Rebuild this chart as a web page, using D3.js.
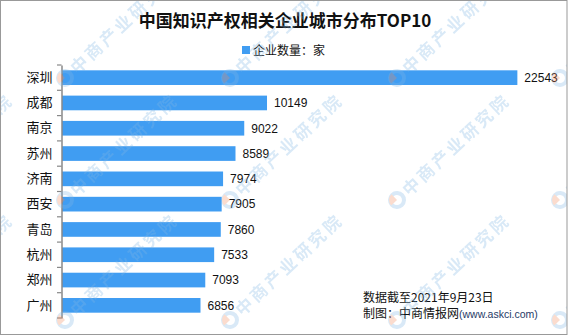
<!DOCTYPE html>
<html><head><meta charset="utf-8">
<script src="https://cdn.jsdelivr.net/npm/d3@7"></script>
<style>
html,body{margin:0;padding:0;background:#fff;}
svg{display:block;}
</style></head>
<body>
<svg id="chart" width="568" height="335"></svg>
<script>
const categories = ["深圳","成都","南京","苏州","济南","西安","青岛","杭州","郑州","广州"];
const values = [22543,10149,9022,8589,7974,7905,7860,7533,7093,6856];
const titleText = "中国知识产权相关企业城市分布TOP10";
const legendText = "企业数量：家";
const noteLines = ["数据截至2021年9月23日", "制图：中商情报网"];
const sourceUrl = "(www.askci.com)";
const watermarkText = "中商产业研究院";
const watermarkCols = [-100, 65, 230, 397, 560];
const watermarkRows = [78, 200, 320];

const W = 568, H = 335;
const barColor = "#409DF2";
const svg = d3.select("#chart");
const cjk = "'Noto Sans CJK SC','Noto Sans',sans-serif";

svg.append("rect").attr("x",0).attr("y",0).attr("width",W).attr("height",H).attr("fill","#fff");

const x = d3.scaleLinear().domain([0, 25000]).range([62, 567]);
const y = d3.scaleBand().domain(categories).range([65, 318]).paddingInner(0.42).paddingOuter(0.21);

// title
svg.append("text").attr("x", 285).attr("y", 27).attr("text-anchor","middle")
  .attr("font-family", cjk).attr("font-weight","bold").attr("font-size",17).attr("fill","#111")
  .text(titleText);

// legend
svg.append("rect").attr("x",242).attr("y",46).attr("width",8).attr("height",8).attr("fill",barColor);
svg.append("text").attr("x",253).attr("y",54.5).attr("font-family",cjk).attr("font-size",12).attr("fill","#111")
  .text(legendText);

// bars
svg.append("g").selectAll("rect").data(values).join("rect")
  .attr("x", x(0)).attr("y", (d,i)=>y(categories[i]))
  .attr("width", d=>x(d)-x(0)).attr("height", y.bandwidth())
  .attr("fill", barColor);

// value labels
svg.append("g").selectAll("text").data(values).join("text")
  .attr("x", d=>x(d)+7).attr("y", (d,i)=>y(categories[i])+y.bandwidth()/2)
  .attr("dy","0.36em")
  .attr("font-family","'Liberation Sans',Arial,sans-serif").attr("font-size",12).attr("fill","#111")
  .text(d=>d);

// axis
const axis = d3.axisLeft(y).tickSize(0).tickPadding(9);
const ag = svg.append("g").attr("transform",`translate(${x(0)-0.5},0)`).call(axis);
ag.select(".domain").attr("stroke","#888").attr("stroke-width",1.5);
ag.selectAll(".tick text").attr("font-family",cjk).attr("font-size",13).attr("fill","#111");
const bounds = d3.range(categories.length+1).map(i => y(categories[0]) - y.step()*y.paddingOuter() + i*y.step());
svg.append("g").selectAll("line").data(bounds).join("line")
  .attr("x1", x(0)-5).attr("x2", x(0)-0.5).attr("y1", d=>d).attr("y2", d=>d)
  .attr("stroke","#888").attr("stroke-width",1.2);

// notes
svg.append("text").attr("x",363).attr("y",302).attr("font-family",cjk).attr("font-size",12).attr("fill","#111").text(noteLines[0]);
const t2 = svg.append("text").attr("x",363).attr("y",318).attr("font-family",cjk).attr("font-size",12).attr("fill","#111");
t2.append("tspan").text(noteLines[1]);
t2.append("tspan").attr("font-family","'Liberation Sans',Arial,sans-serif").attr("font-size",10.5).attr("fill","#1f3a66").text(sourceUrl);

// watermarks (clipped to the frame)
svg.append("clipPath").attr("id","frameClip").append("rect").attr("x",1).attr("y",1).attr("width",W-2).attr("height",H-2);
const wm = svg.append("g").attr("clip-path","url(#frameClip)").attr("opacity",0.3);
watermarkRows.forEach(ry => watermarkCols.forEach(cx => {
  const g = wm.append("g").attr("transform",`translate(${cx},${ry}) rotate(-43)`);
  g.append("circle").attr("r",7).attr("fill","none").attr("stroke","#7fb6e3").attr("stroke-width",4);
  g.append("path").attr("d", d3.arc()({innerRadius:0,outerRadius:8,startAngle:-Math.PI/2,endAngle:0})).attr("fill","#f08a5d");
  g.append("text").attr("x",11).attr("y",6).attr("font-family",cjk).attr("font-weight","bold")
    .attr("font-size",17).attr("letter-spacing",3).attr("fill","#7fb6e3").text(watermarkText);
}));

// border
svg.append("rect").attr("x",0.5).attr("y",0.5).attr("width",W-1.5).attr("height",H-1).attr("fill","none").attr("stroke","#999");
</script>
</body></html>
